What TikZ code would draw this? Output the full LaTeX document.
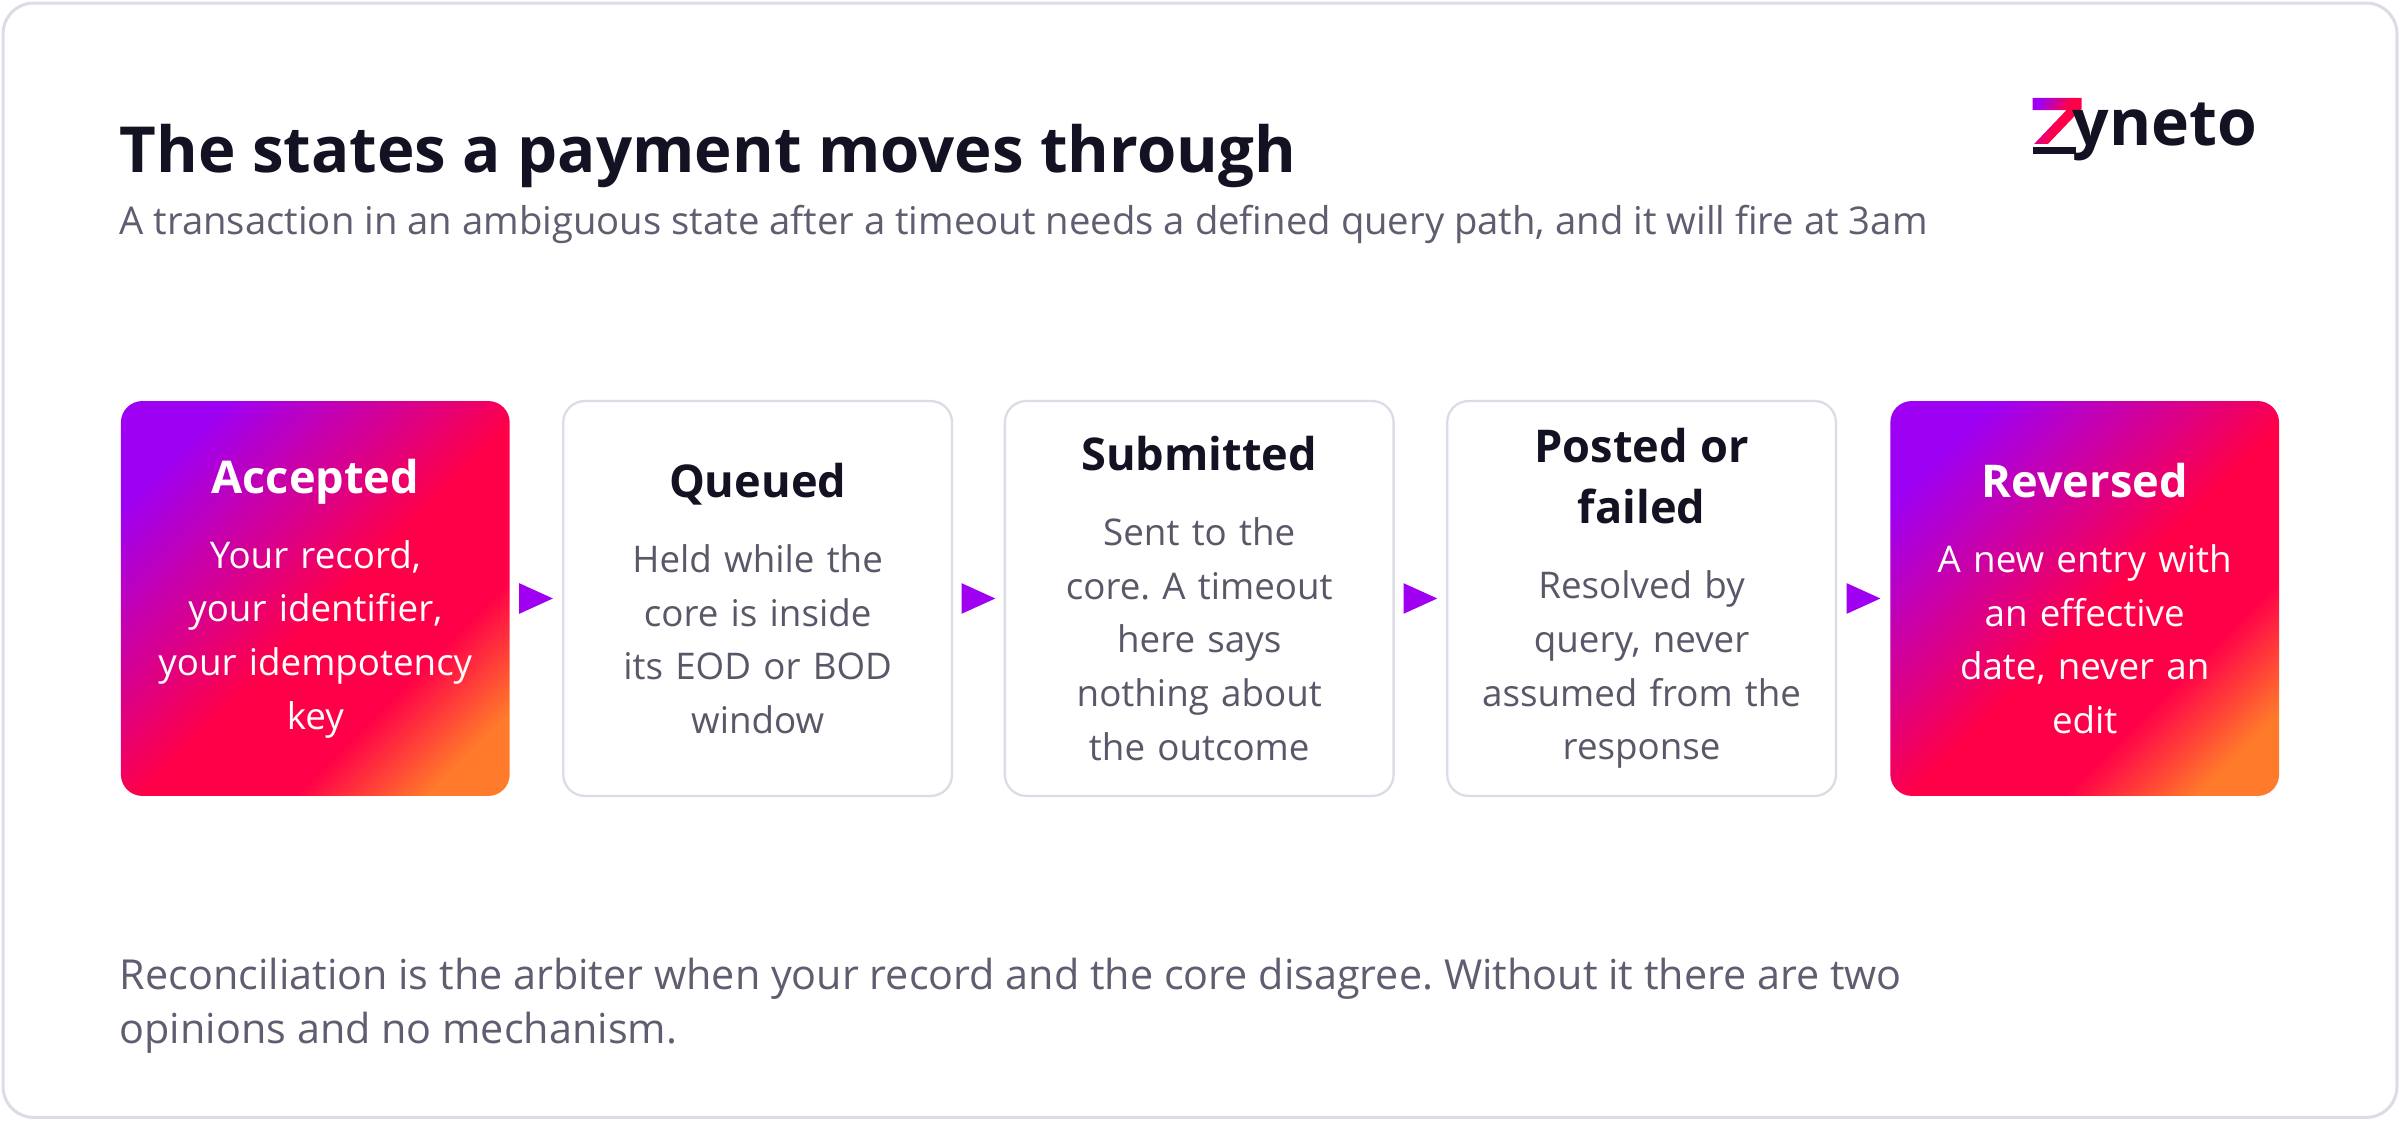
\documentclass[tikz,border=0pt]{standalone}
\usepackage{fontspec}
\usetikzlibrary{calc}
\setmainfont{Open Sans}
\frenchspacing
\definecolor{ink}{HTML}{121222}
\definecolor{sub}{HTML}{5E5E70}
\definecolor{bodyc}{HTML}{585868}
\definecolor{edge}{HTML}{DCDCE6}
\definecolor{purp}{HTML}{A000F2}
\definecolor{gA}{HTML}{9E00F4}
\definecolor{gB}{HTML}{FF0048}
\definecolor{gC}{HTML}{FF7A2A}
\pgfdeclarehorizontalshading{brand}{100bp}{color(0bp)=(gA);color(24bp)=(gA);color(52bp)=(gB);color(66bp)=(gB);color(78bp)=(gC);color(100bp)=(gC)}
\newcommand{\ttl}{\fontsize{29.5}{35}\selectfont\bfseries}
\newcommand{\bdy}{\fontsize{24}{35}\selectfont}
\begin{document}
\begin{tikzpicture}[x=1pt,y=-1pt,
  box/.style={rounded corners=14pt,minimum width=254pt,minimum height=258pt,align=center,text width=250pt,inner sep=0pt,font=\bdy},
  white/.style={box,draw=edge,line width=1.5pt,fill=white,text=bodyc},
  grad/.style={box,shading=brand,shading angle=-45,text=white},
  arr/.style={fill=purp}]
\useasboundingbox (0,0) rectangle (1568,732);
\draw[edge,line width=2pt,rounded corners=20pt,fill=white] (2,2) rectangle (1566,730);
\node[anchor=base west,text=ink,font=\fontsize{41.5}{50}\selectfont\bfseries,inner sep=0pt] (title) at (78,113) {The states a payment moves through};
\node[anchor=base west,text=sub,font=\fontsize{25}{30}\selectfont,inner sep=0pt] (subtitle) at (78,153) {A transaction in an ambiguous state after a timeout needs a defined query path, and it will fire at 3am};
% logo
\shade[shading=brand,shading angle=-30] (1328,64) -- (1360,64) -- (1360,71) -- (1338,94) -- (1329,94) -- (1350,72) -- (1328,72) -- cycle;
\fill[ink] (1328,96) rectangle (1356,100.5);
\node[anchor=base west,inner sep=0pt,font=\fontsize{42}{42}\selectfont\bfseries,text=ink] (logo) at (1354,95) {yneto};
% boxes
\node[grad] (b1) at (206,391) {{\ttl Accepted}\\[14pt]Your record,\\your identifier,\\your idempotency\\key};
\node[white] (b2) at (495,391) {{\ttl\color{ink} Queued}\\[14pt]Held while the\\core is inside\\its EOD or BOD\\window};
\node[white] (b3) at (783.5,391) {{\ttl\color{ink} Submitted}\\[14pt]Sent to the\\core. A timeout\\here says\\nothing about\\the outcome};
\node[white] (b4) at (1072.5,391) {{\ttl\color{ink} Posted or}\\[5pt]{\ttl\color{ink} failed}\\[14pt]Resolved by\\query, never\\assumed from the\\response};
\node[grad] (b5) at (1362,391) {{\ttl Reversed}\\[14pt]A new entry with\\an effective\\date, never an\\edit};
\foreach \a/\b in {b1/b2,b2/b3,b3/b4,b4/b5}{
  \path (\a.east) -- (\b.west) coordinate[midway] (m);
  \fill[arr] ($(m)+(-11,-10)$) -- ($(m)+(11,0)$) -- ($(m)+(-11,10)$) -- cycle;
}
\node[anchor=north west,text=sub,font=\fontsize{27}{35}\selectfont,inner sep=0pt,align=left] (foot) at (78,626) {Reconciliation is the arbiter when your record and the core disagree. Without it there are two\\opinions and no mechanism.};
\end{tikzpicture}
\end{document}
